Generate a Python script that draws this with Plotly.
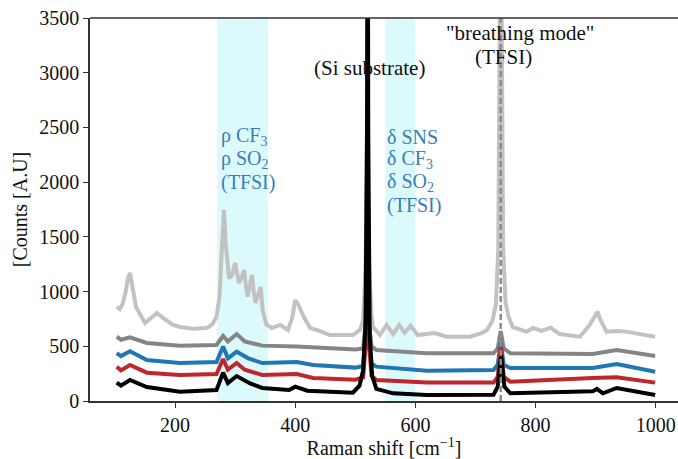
import plotly.graph_objects as go

# ---- data ----
x_lg = [103, 108, 113, 118, 122, 125, 129, 135, 150, 160, 170, 180, 195, 208, 230, 253, 262, 269, 274, 278, 281.5, 284, 287, 290, 295, 300, 303, 306.5, 311, 315, 318, 321, 325, 328, 331, 334, 339, 342.5, 346, 352, 361, 375, 388, 395, 400, 405, 415, 425, 440, 458, 496, 508, 513, 517, 520, 523, 527, 529.5, 541, 552, 563, 573, 582, 592, 604, 632, 652, 691, 710, 719, 728, 734, 738, 742, 746, 750, 755, 762, 785, 796, 810, 825, 840, 874, 890, 898, 903, 908, 918, 935, 951, 999]
y_lg = [860, 840, 890, 1000, 1130, 1170, 1050, 860, 713, 760, 804, 760, 700, 677, 660, 667, 700, 768, 950, 1400, 1746, 1450, 1289, 1120, 1150, 1261, 1180, 1078, 1130, 1197, 1050, 953, 1080, 1152, 1000, 896, 980, 1042, 820, 700, 667, 695, 649, 760, 923, 880, 760, 667, 640, 603, 603, 650, 740, 1200, 2500, 1200, 780, 676, 603, 695, 612, 695, 624, 688, 603, 621, 588, 588, 620, 649, 730, 880, 1400, 5000, 1400, 900, 771, 676, 634, 667, 640, 670, 612, 588, 695, 760, 816, 740, 634, 640, 634, 588]

x_gr = [103, 110, 125, 153, 208, 269, 280, 288, 302.6, 316, 345, 402.5, 500, 513, 517, 520, 523, 527, 535, 619, 730, 737, 742, 747, 758, 895, 935, 999]
y_gr = [588, 560, 582, 530, 506, 512, 594, 545, 612, 545, 506, 497, 470, 480, 700, 1400, 700, 500, 466, 436, 436, 480, 640, 480, 436, 429, 466, 411]

x_bl = [103, 110, 125, 153, 208, 269, 280, 288, 302.6, 322, 345, 402.5, 430, 500, 513, 517, 520, 523, 527, 535, 619, 730, 737, 742, 747, 758, 895, 935, 999]
y_bl = [438, 410, 455, 375, 347, 357, 497, 390, 451, 390, 347, 357, 329, 305, 320, 600, 1300, 600, 340, 314, 277, 283, 330, 530, 330, 301, 301, 338, 268]

x_rd = [103, 110, 125, 153, 208, 269, 280, 288, 302.6, 316, 345, 402.5, 430, 500, 513, 517, 520, 523, 527, 535, 619, 730, 737, 742, 747, 758, 895, 935, 999]
y_rd = [314, 280, 329, 259, 238, 247, 384, 286, 347, 286, 238, 247, 210, 195, 215, 500, 1200, 500, 230, 192, 168, 168, 220, 497, 220, 177, 210, 216, 168]

x_bk = [103, 110, 125, 153, 208, 269, 280, 288, 302.6, 316, 325, 345, 390, 400, 420, 496, 507, 513, 517, 519.5, 520.5, 521.5, 524, 528, 535, 563, 619, 730, 737, 742.6, 748, 758, 895, 902, 912, 935, 999]
y_bk = [168, 140, 192, 128, 85, 100, 259, 164, 228, 183, 160, 119, 100, 131, 94, 76, 140, 280, 700, 2500, 6000, 2500, 600, 230, 110, 70, 55, 58, 131, 420, 131, 70, 88, 110, 70, 119, 55]

band_ranges = [(270, 355), (550, 600)]
breathing = 742

x_ticks = [200, 400, 600, 800, 1000]
y_ticks = [0, 500, 1000, 1500, 2000, 2500, 3000, 3500]

FONT = "Liberation Serif"
BLUE_TXT = "#3a7dba"

fig = go.Figure()
series = [
    (x_lg, y_lg, "#c2c2c2"),
    (x_gr, y_gr, "#858585"),
    (x_bl, y_bl, "#1f77b4"),
    (x_rd, y_rd, "#c0272d"),
    (x_bk, y_bk, "#000000"),
]
for xs, ys, col in series:
    fig.add_trace(go.Scatter(x=xs, y=ys, mode="lines",
                             line=dict(color=col, width=4),
                             showlegend=False, hoverinfo="skip"))

for a, b in band_ranges:
    fig.add_shape(type="rect", xref="x", yref="paper", x0=a, x1=b, y0=0, y1=1,
                  fillcolor="#dcfafc", line=dict(width=0), layer="below")

fig.add_shape(type="line", xref="x", yref="paper", x0=breathing, x1=breathing,
              y0=0, y1=1, line=dict(color="#8c8c8c", width=2.5, dash="6px,3px"),
              layer="above")
# top frame line
fig.add_shape(type="line", xref="paper", yref="paper", x0=0, x1=1, y0=1, y1=1,
              line=dict(color="#333333", width=1.5))

def ann(x, y, text, color, xanchor="center", size=20):
    fig.add_annotation(x=x, y=y, xref="x", yref="y", text=text, showarrow=False,
                       font=dict(family=FONT, size=size, color=color),
                       xanchor=xanchor, yanchor="middle")

ann(523, 3044, "(Si substrate)", "#111111", size=21)
ann(774, 3364, "\"breathing mode\"", "#111111", size=21)
ann(747, 3144, "(TFSI)", "#111111", size=21)

left_lines = ["ρ CF<sub>3</sub>", "ρ SO<sub>2</sub>", "(TFSI)"]
right_lines = ["δ SNS", "δ CF<sub>3</sub>", "δ SO<sub>2</sub>", "(TFSI)"]
line_y = [2413, 2203, 1993, 1785]
for t, yv in zip(left_lines, line_y):
    ann(273, yv, t, BLUE_TXT, "left")
for t, yv in zip(right_lines, line_y):
    ann(550, yv, t, BLUE_TXT, "left")

fig.update_layout(
    width=678, height=459,
    margin=dict(l=90, r=0, t=18, b=58),
    plot_bgcolor="white", paper_bgcolor="white",
    font=dict(family=FONT, size=20, color="#111111"),
    xaxis=dict(range=[58.5, 1037], tickvals=x_ticks, ticks="outside", ticklen=5,
               tickwidth=1.2, tickcolor="#333333", showgrid=False, zeroline=False,
               showline=True, linecolor="#333333", linewidth=1.5,
               title=dict(text="Raman shift [cm<sup>−1</sup>]", standoff=4,
                          font=dict(family=FONT, size=20)),
               tickfont=dict(family=FONT, size=20)),
    yaxis=dict(range=[0, 3500], tickvals=y_ticks, ticks="outside", ticklen=5,
               tickwidth=1.2, tickcolor="#333333", showgrid=False, zeroline=False,
               showline=True, linecolor="#333333", linewidth=1.5,
               title=dict(text="[Counts [A.U]", standoff=6,
                          font=dict(family=FONT, size=20)),
               tickfont=dict(family=FONT, size=20)),
)

fig.write_html("out.html")
